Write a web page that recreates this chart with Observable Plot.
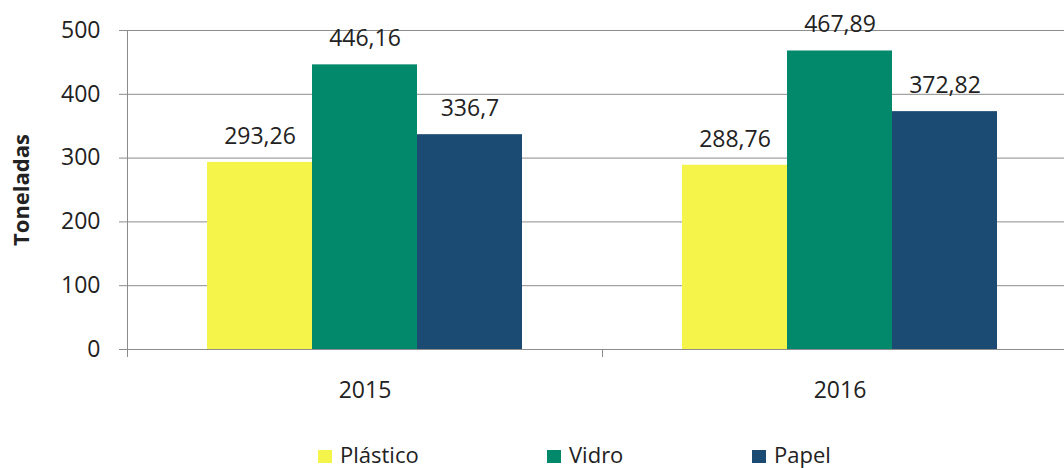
<!DOCTYPE html>
<html><head><meta charset="utf-8">
<script src="https://cdn.jsdelivr.net/npm/d3@7"></script>
<script src="https://cdn.jsdelivr.net/npm/@observablehq/plot@0.6"></script>
<style>
html,body{margin:0;padding:0;overflow:hidden;background:#fff;width:1064px;height:468px;font-family:"Open Sans",sans-serif;}
#chart{position:absolute;left:0;top:0;width:1080px;}
#chart svg{max-width:none !important;width:1080px !important;height:440px !important;}
#legend{position:absolute;left:0;top:445px;width:1064px;height:18px;font-size:22px;line-height:18px;color:#222;}
.item{position:absolute;top:0;white-space:nowrap;}
.sw{display:inline-block;width:14px;height:13px;margin-right:8px;vertical-align:0px;}
g[aria-label="y-axis label"] text{font-weight:bold;font-size:22px;}
</style></head><body>
<div id="chart"></div><div id="legend"></div>
<script>
const years = ["2015", "2016"];
const materials = ["Plástico", "Vidro", "Papel"];
const plastico = [293.26, 288.76];
const vidro = [446.16, 467.89];
const papel = [336.7, 372.82];
const colors = ["#f5f44a", "#02886a", "#1b4a72"];
const yTicks = [0, 100, 200, 300, 400, 500];
const legendLeft = [318, 547, 752];

const series = [plastico, vidro, papel];
const data = [];
years.forEach((yr, i) => materials.forEach((m, j) => data.push({year: yr, material: m, value: series[j][i]})));
const fmt = v => String(v).replace(".", ",");

const W = 1080, H = 440, mL = 127, mR = 3, mT = 30, mB = 91;

const chart = Plot.plot({
  width: W, height: H,
  marginLeft: mL, marginRight: mR, marginTop: mT, marginBottom: mB,
  style: {fontFamily: "'Open Sans', sans-serif", fontSize: "23px", color: "#222", background: "transparent", overflow: "visible", maxWidth: "none"},
  fx: {domain: years, padding: 0, label: null},
  x: {domain: materials, paddingInner: 0, paddingOuter: 0.76, axis: null},
  y: {domain: [0, 500], label: null},
  color: {domain: materials, range: colors},
  marks: [
    Plot.gridY(yTicks, {stroke: "#8c8c8c", strokeOpacity: 1, strokeWidth: 1}),
    Plot.frame({anchor: "left", stroke: "#8c8c8c", insetTop: H - mT - mB, insetBottom: -7}),
    Plot.frame({anchor: "left", stroke: "#8c8c8c", insetBottom: -7, facetAnchor: "left"}),
    Plot.barY(data, {fx: "year", x: "material", y: "value", fill: "material"}),
    Plot.ruleY([0], {stroke: "#8c8c8c"}),
    Plot.text(data, {fx: "year", x: "material", y: "value", text: d => fmt(d.value), dy: -26, lineAnchor: "middle", fill: "#222"}),
    Plot.axisY({ticks: yTicks, tickSize: 8, tickPadding: 19, stroke: "#8c8c8c", fill: "#222",
      label: "Toneladas", labelAnchor: "center", labelArrow: "none", labelOffset: 114}),
    Plot.axisFx({anchor: "bottom", tickSize: 0, tickPadding: 32, label: null, fill: "#222"})
  ]
});
document.getElementById("chart").appendChild(chart);

const legend = document.getElementById("legend");
materials.forEach((m, j) => {
  const it = document.createElement("div");
  it.className = "item";
  it.style.left = legendLeft[j] + "px";
  const sw = document.createElement("span");
  sw.className = "sw";
  sw.style.background = colors[j];
  it.appendChild(sw);
  it.appendChild(document.createTextNode(m));
  legend.appendChild(it);
});
</script>
</body></html>
